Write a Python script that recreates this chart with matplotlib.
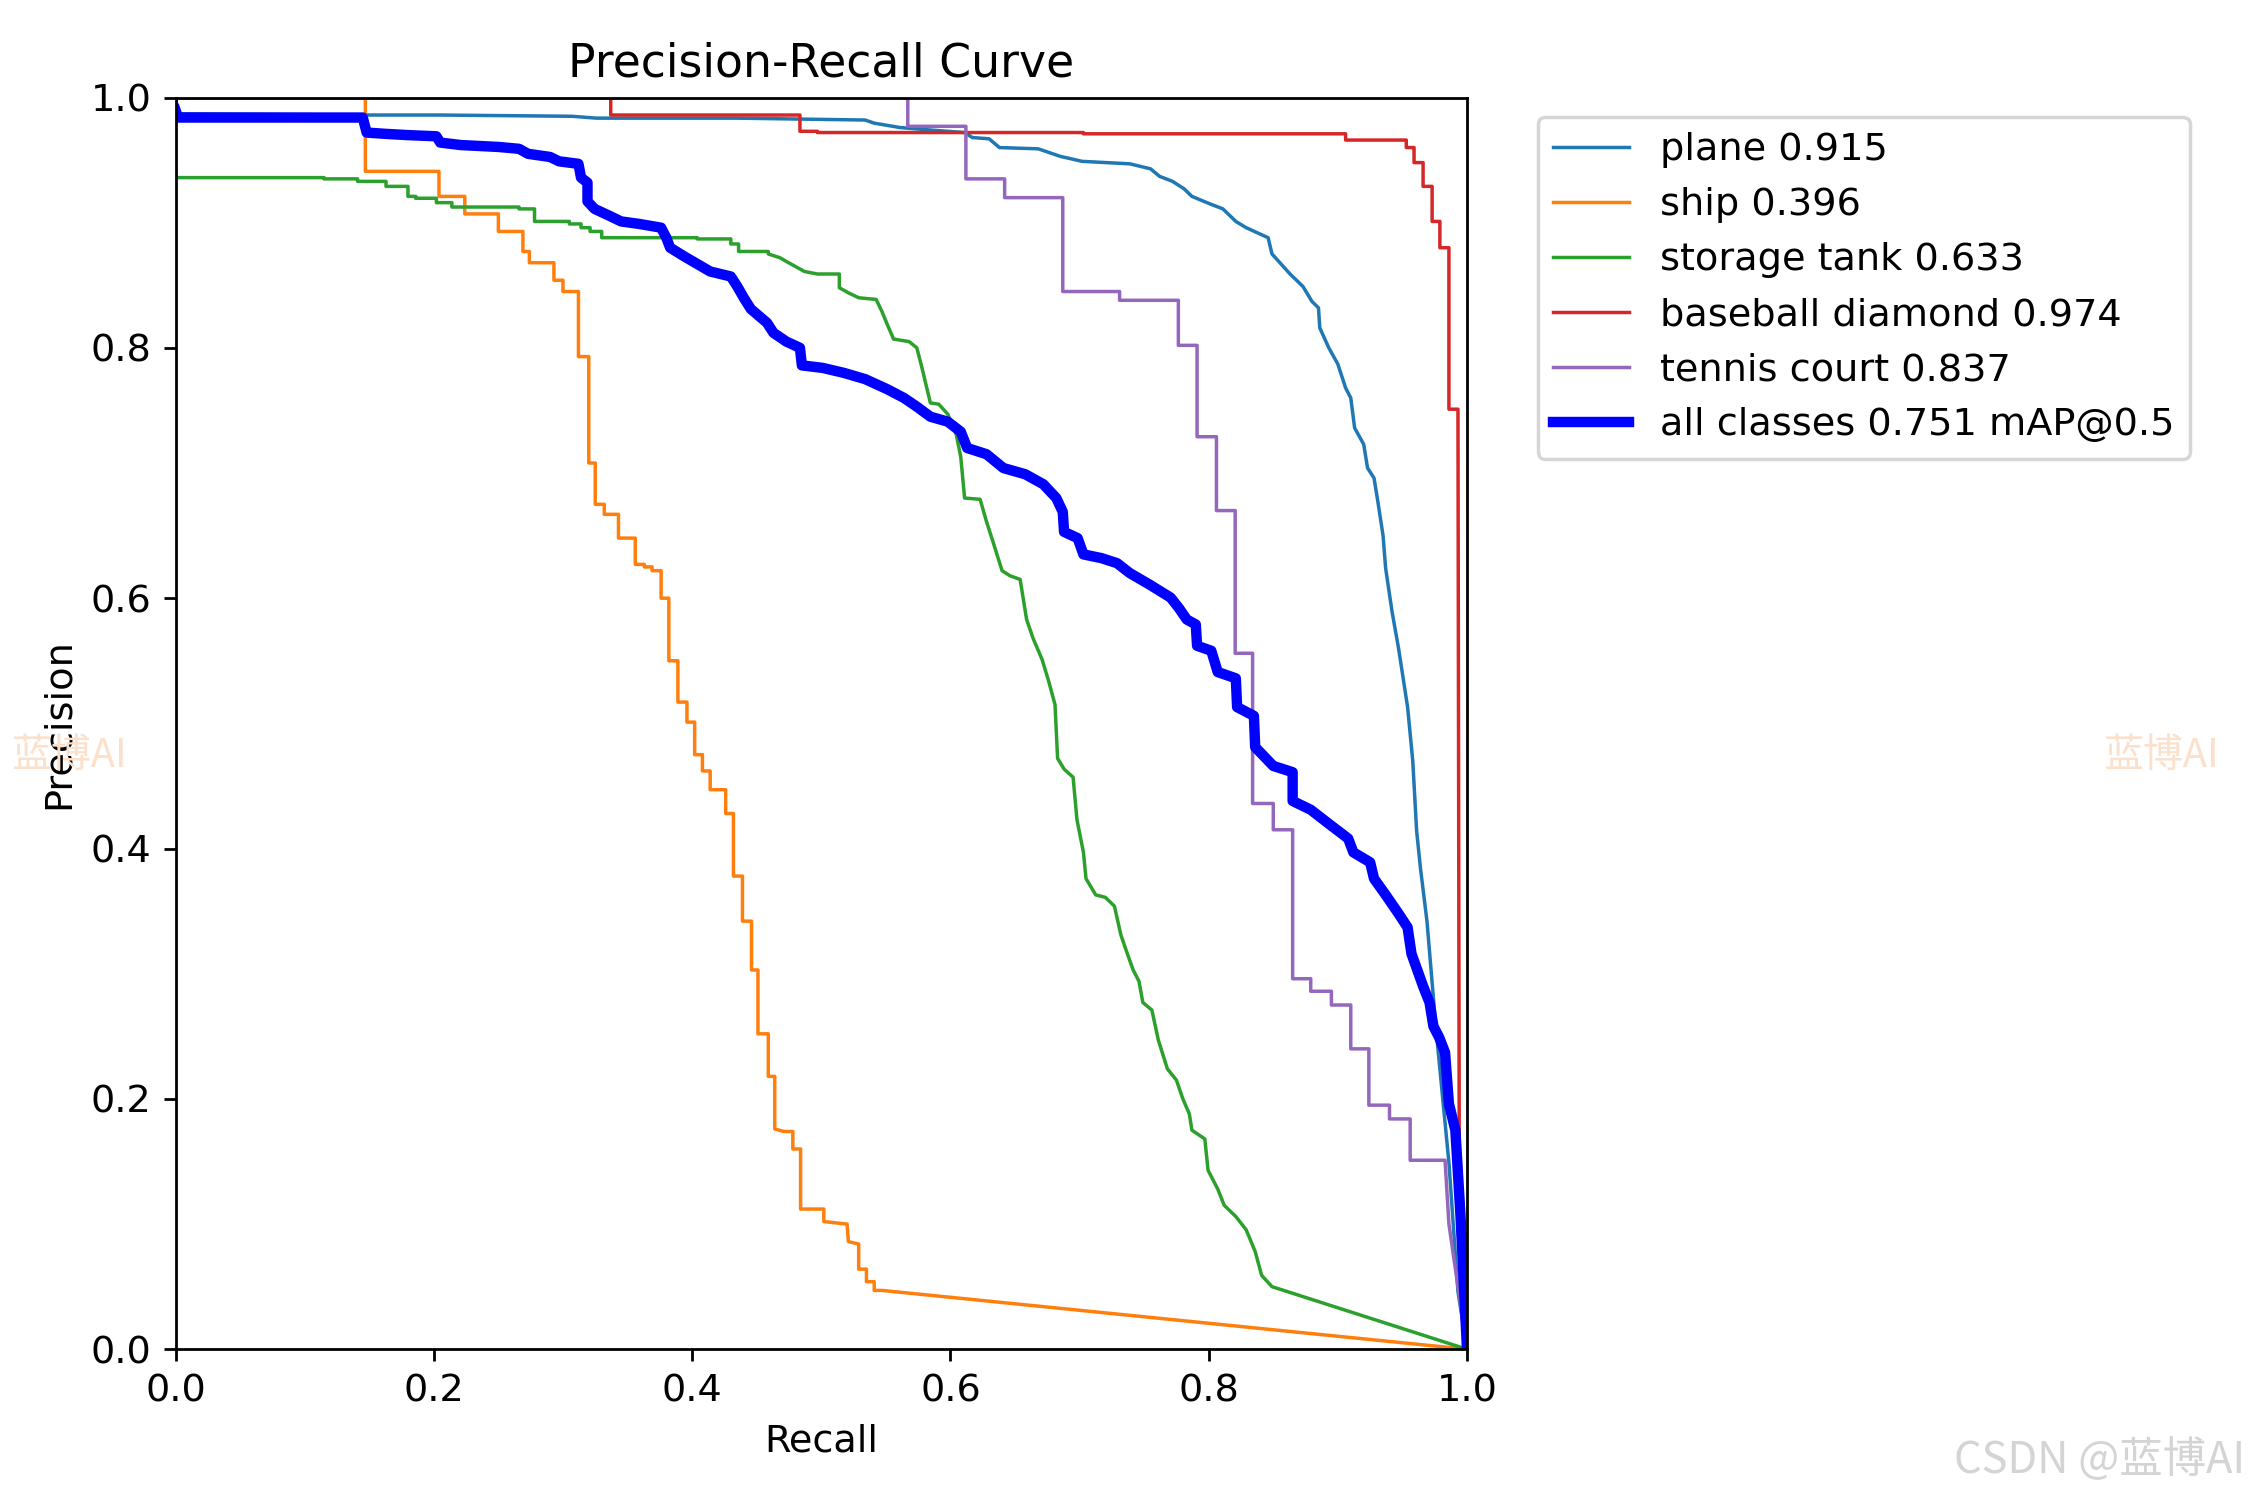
import matplotlib
matplotlib.use('Agg')
import matplotlib.pyplot as plt

plt.rcParams['font.size'] = 11

# (recall, precision) points
plane = [(0, 1.0), (0.002, 0.987), (0.148, 0.986), (0.204, 0.986), (0.307, 0.985), (0.326, 0.9835),
         (0.435, 0.9835), (0.534, 0.982), (0.541, 0.9795), (0.561, 0.976), (0.585, 0.974), (0.611, 0.972),
         (0.617, 0.968), (0.630, 0.967), (0.638, 0.960), (0.668, 0.959), (0.685, 0.953), (0.702, 0.949),
         (0.739, 0.947), (0.755, 0.943), (0.762, 0.937), (0.772, 0.933), (0.781, 0.927), (0.787, 0.921),
         (0.801, 0.915), (0.811, 0.911), (0.821, 0.901), (0.829, 0.896), (0.846, 0.888), (0.849, 0.875),
         (0.856, 0.867), (0.863, 0.859), (0.873, 0.849), (0.880, 0.837), (0.885, 0.832), (0.886, 0.816),
         (0.893, 0.800), (0.900, 0.787), (0.906, 0.768), (0.910, 0.760), (0.913, 0.736), (0.920, 0.723),
         (0.923, 0.704), (0.928, 0.696), (0.931, 0.677), (0.935, 0.650), (0.937, 0.624), (0.942, 0.589),
         (0.947, 0.560), (0.954, 0.513), (0.958, 0.470), (0.961, 0.414), (0.964, 0.384), (0.969, 0.342),
         (0.976, 0.256), (0.986, 0.149), (0.993, 0.046), (1.0, 0.0)]

ship = [(0, 1.0), (0.147, 1.0), (0.147, 0.941), (0.204, 0.941), (0.204, 0.921), (0.224, 0.921),
        (0.224, 0.907), (0.250, 0.907), (0.250, 0.893), (0.269, 0.893), (0.269, 0.877), (0.274, 0.877),
        (0.274, 0.868), (0.293, 0.868), (0.293, 0.854), (0.300, 0.854), (0.300, 0.845), (0.312, 0.845),
        (0.312, 0.793), (0.320, 0.793), (0.320, 0.708), (0.325, 0.708), (0.325, 0.675), (0.332, 0.675),
        (0.332, 0.667), (0.343, 0.667), (0.343, 0.648), (0.356, 0.648), (0.356, 0.627), (0.363, 0.627),
        (0.363, 0.625), (0.369, 0.625), (0.369, 0.622), (0.376, 0.622), (0.376, 0.600), (0.382, 0.600),
        (0.382, 0.550), (0.389, 0.550), (0.389, 0.517), (0.396, 0.517), (0.396, 0.501), (0.402, 0.501),
        (0.402, 0.475), (0.408, 0.475), (0.408, 0.462), (0.414, 0.462), (0.414, 0.447), (0.426, 0.447),
        (0.426, 0.428), (0.432, 0.428), (0.432, 0.378), (0.439, 0.378), (0.439, 0.342), (0.446, 0.342),
        (0.446, 0.303), (0.451, 0.303), (0.451, 0.252), (0.459, 0.252), (0.459, 0.218), (0.464, 0.218),
        (0.464, 0.176), (0.471, 0.174), (0.478, 0.174), (0.478, 0.160), (0.484, 0.160), (0.484, 0.112),
        (0.502, 0.112), (0.502, 0.102), (0.520, 0.100), (0.521, 0.086), (0.529, 0.084), (0.529, 0.064),
        (0.535, 0.064), (0.535, 0.054), (0.541, 0.054), (0.541, 0.047), (0.547, 0.047), (1.0, 0.0)]

storage_tank = [(0, 0.936), (0.115, 0.936), (0.115, 0.935), (0.141, 0.935), (0.141, 0.933), (0.163, 0.933),
                (0.163, 0.929), (0.180, 0.929), (0.180, 0.921), (0.186, 0.921), (0.186, 0.9195), (0.202, 0.9195),
                (0.202, 0.916), (0.214, 0.916), (0.214, 0.9125), (0.266, 0.9125), (0.266, 0.911), (0.278, 0.911),
                (0.278, 0.901), (0.305, 0.901), (0.305, 0.899), (0.314, 0.899), (0.314, 0.896), (0.321, 0.896),
                (0.321, 0.893), (0.330, 0.893), (0.330, 0.888), (0.404, 0.888), (0.404, 0.887), (0.430, 0.887),
                (0.430, 0.883), (0.436, 0.883), (0.436, 0.877), (0.459, 0.877), (0.459, 0.875), (0.468, 0.872),
                (0.473, 0.869), (0.480, 0.865), (0.487, 0.861), (0.497, 0.859), (0.514, 0.859), (0.514, 0.848),
                (0.521, 0.844), (0.529, 0.840), (0.5425, 0.8387), (0.547, 0.829), (0.551, 0.819), (0.556, 0.807),
                (0.568, 0.805), (0.574, 0.800), (0.578, 0.784), (0.581, 0.771), (0.5845, 0.756), (0.591, 0.755),
                (0.598, 0.747), (0.6045, 0.731), (0.608, 0.713), (0.611, 0.680), (0.623, 0.679), (0.628, 0.661),
                (0.633, 0.645), (0.640, 0.622), (0.646, 0.618), (0.654, 0.615), (0.659, 0.583), (0.664, 0.568),
                (0.671, 0.551), (0.676, 0.534), (0.681, 0.515), (0.683, 0.472), (0.688, 0.4635), (0.695, 0.457),
                (0.698, 0.423), (0.703, 0.397), (0.705, 0.376), (0.7125, 0.363), (0.720, 0.361), (0.727, 0.354),
                (0.732, 0.331), (0.737, 0.316), (0.7415, 0.303), (0.746, 0.294), (0.749, 0.277), (0.756, 0.271),
                (0.761, 0.247), (0.768, 0.224), (0.775, 0.215), (0.780, 0.200), (0.785, 0.188), (0.787, 0.175),
                (0.797, 0.168), (0.7995, 0.143), (0.807, 0.128), (0.812, 0.115), (0.821, 0.106), (0.829, 0.0955),
                (0.836, 0.078), (0.841, 0.059), (0.849, 0.050), (1.0, 0.0)]

baseball_diamond = [(0, 1.0), (0.337, 1.0), (0.337, 0.986), (0.4835, 0.986), (0.4835, 0.973), (0.497, 0.973),
                    (0.497, 0.972), (0.703, 0.972), (0.703, 0.971), (0.906, 0.971), (0.906, 0.966), (0.953, 0.966),
                    (0.953, 0.960), (0.959, 0.960), (0.959, 0.948), (0.966, 0.948), (0.966, 0.929), (0.973, 0.929),
                    (0.973, 0.901), (0.979, 0.901), (0.979, 0.880), (0.986, 0.880), (0.986, 0.751), (0.993, 0.751),
                    (0.994, 0.16), (1.0, 0.0)]

tennis_court = [(0, 1.0), (0.567, 1.0), (0.567, 0.977), (0.612, 0.977), (0.612, 0.935), (0.642, 0.935),
                (0.642, 0.920), (0.687, 0.920), (0.687, 0.845), (0.731, 0.845), (0.731, 0.838), (0.7765, 0.838),
                (0.7765, 0.802), (0.791, 0.802), (0.791, 0.729), (0.806, 0.729), (0.806, 0.670), (0.8205, 0.670),
                (0.8205, 0.556), (0.834, 0.556), (0.834, 0.436), (0.850, 0.436), (0.850, 0.415), (0.865, 0.415),
                (0.865, 0.296), (0.879, 0.296), (0.879, 0.286), (0.895, 0.286), (0.895, 0.275), (0.910, 0.275),
                (0.910, 0.240), (0.924, 0.240), (0.924, 0.195), (0.940, 0.195), (0.940, 0.184), (0.956, 0.184),
                (0.956, 0.151), (0.983, 0.151), (0.986, 0.10), (1.0, 0.0)]

all_classes = [(0, 0.99), (0.002, 0.984), (0.145, 0.984), (0.148, 0.972), (0.162, 0.971), (0.179, 0.970),
               (0.202, 0.969), (0.205, 0.964), (0.221, 0.962), (0.250, 0.9605), (0.266, 0.959), (0.273, 0.955),
               (0.290, 0.9525), (0.297, 0.949), (0.312, 0.947), (0.314, 0.936), (0.319, 0.932), (0.319, 0.917),
               (0.3245, 0.911), (0.337, 0.905), (0.345, 0.901), (0.359, 0.899), (0.376, 0.896), (0.380, 0.888),
               (0.383, 0.880), (0.394, 0.873), (0.404, 0.867), (0.414, 0.861), (0.430, 0.857), (0.435, 0.849),
               (0.440, 0.840), (0.4455, 0.831), (0.458, 0.820), (0.463, 0.812), (0.473, 0.805), (0.4835, 0.800),
               (0.485, 0.786), (0.501, 0.784), (0.5175, 0.780), (0.534, 0.775), (0.551, 0.767), (0.564, 0.760),
               (0.574, 0.753), (0.5845, 0.745), (0.598, 0.741), (0.608, 0.733), (0.613, 0.720), (0.628, 0.715),
               (0.641, 0.704), (0.658, 0.699), (0.672, 0.691), (0.682, 0.680), (0.687, 0.669), (0.688, 0.653),
               (0.6985, 0.648), (0.703, 0.635), (0.717, 0.632), (0.729, 0.628), (0.739, 0.620), (0.754, 0.611),
               (0.7705, 0.6005), (0.777, 0.592), (0.783, 0.583), (0.790, 0.579), (0.791, 0.562), (0.802, 0.558),
               (0.807, 0.541), (0.821, 0.536), (0.822, 0.513), (0.835, 0.506), (0.836, 0.481), (0.850, 0.466),
               (0.865, 0.461), (0.865, 0.438), (0.879, 0.431), (0.894, 0.419), (0.908, 0.408), (0.912, 0.397),
               (0.925, 0.389), (0.928, 0.376), (0.937, 0.363), (0.947, 0.348), (0.954, 0.337), (0.957, 0.316),
               (0.9615, 0.303), (0.966, 0.290), (0.971, 0.277), (0.974, 0.258), (0.9785, 0.249), (0.983, 0.237),
               (0.986, 0.196), (0.991, 0.175), (0.995, 0.106), (1.0, 0.0)]

class_names = ['plane', 'ship', 'storage tank', 'baseball diamond', 'tennis court']
class_curves = [plane, ship, storage_tank, baseball_diamond, tennis_court]
class_ap = [0.915, 0.396, 0.633, 0.974, 0.837]
map50 = 0.751

fig, ax = plt.subplots(1, 1, figsize=(9, 6))
fig.subplots_adjust(left=0.078, right=0.652, bottom=0.1005, top=0.935)

for name, curve, ap in zip(class_names, class_curves, class_ap):
    r, p = zip(*curve)
    ax.plot(r, p, linewidth=1, label=f'{name} {ap:.3f}')

r, p = zip(*all_classes)
ax.plot(r, p, linewidth=3, color='blue', label=f'all classes {map50:.3f} mAP@0.5')

ax.set_xlabel('Recall')
ax.set_ylabel('Precision')
ax.set_xlim(0, 1)
ax.set_ylim(0, 1)
ax.legend(bbox_to_anchor=(1.04, 1), loc='upper left')
ax.set_title('Precision-Recall Curve')

# watermarks
wm_font = ['Noto Sans CJK SC', 'DejaVu Sans']
fig.text(0.005, 0.496, '蓝博AI', color='#fbe0cc', fontsize=11.5, family=wm_font, ha='left', va='center')
fig.text(0.986, 0.496, '蓝博AI', color='#fbe0cc', fontsize=11.5, family=wm_font, ha='right', va='center')
fig.text(0.998, 0.026, 'CSDN @蓝博AI', color='#d4d4d4', fontsize=12.5, family=wm_font, ha='right', va='center')

fig.savefig('out.png', dpi=250)
plt.close(fig)
